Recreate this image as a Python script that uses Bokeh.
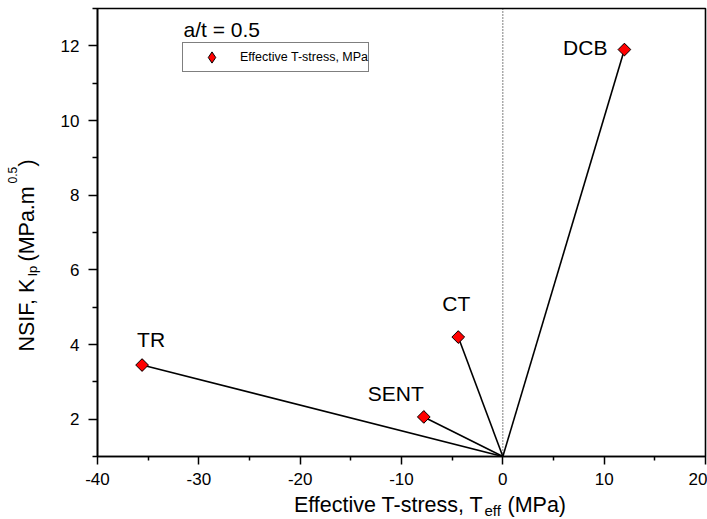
import numpy as np
from bokeh.plotting import figure
from bokeh.layouts import row, column
from bokeh.models import (ColumnDataSource, Label, Span, FixedTicker,
                          CustomJSTickFormatter, Legend, LegendItem)
from bokeh.core.properties import value
from bokeh.embed import file_html
from bokeh.resources import INLINE

# ---- data ----
specimens = ["TR", "SENT", "CT", "DCB"]
t_eff = [-35.6, -7.8, -4.4, 12.0]          # Effective T-stress (MPa)
k_ip = [3.45, 2.06, 4.2, 11.9]             # NSIF K_Ip (MPa.m^0.5)
origin_x = 0.0
origin_y = 1.0
x_major = [-40, -30, -20, -10, 0, 10, 20]
x_minor = [-35, -25, -15, -5, 5, 15]
y_major = [2, 4, 6, 8, 10, 12]
y_minor = [1, 3, 5, 7, 9, 11, 13]
legend_text = "Effective T-stress, MPa"
annotation_text = "a/t = 0.5"

# ---- label styling (screen offsets) ----
lab_dx = [9, -28, -2, -17]
lab_dy = [-26, -23, -34, -2]
lab_align = ["center", "center", "center", "right"]

FONT = "Liberation Sans"
LEFT_W = 45      # width of the strip carrying the y title
BOTTOM_H = 27    # height of the strip carrying the x title
TOTAL_W, TOTAL_H = 707, 519
FRAME_L = 97     # page x of the plot frame's left edge
BORDER_L = FRAME_L - LEFT_W
BORDER_R = 2

p = figure(width=TOTAL_W - LEFT_W, height=TOTAL_H - BOTTOM_H,
           x_range=(-40, 20), y_range=(1, 13),
           output_backend="svg", toolbar_location=None,
           min_border_left=BORDER_L, min_border_right=BORDER_R, min_border_top=8,
           min_border_bottom=TOTAL_H - BOTTOM_H - 456)
p.xgrid.visible = False
p.ygrid.visible = False
p.outline_line_color = "black"
p.outline_line_width = 1.6
p.background_fill_color = "white"
p.border_fill_color = "white"

fmt = CustomJSTickFormatter(code="return tick.toString();")
for ax in (p.xaxis[0], p.yaxis[0]):
    ax.axis_line_width = 1.6
    ax.axis_line_color = "black"
    ax.major_tick_line_width = 1.5
    ax.minor_tick_line_width = 1.5
    ax.major_tick_line_color = "black"
    ax.minor_tick_line_color = "black"
    ax.major_tick_in = 0
    ax.minor_tick_in = 0
    ax.major_label_text_font = FONT
    ax.major_label_text_font_size = "17px"
    ax.major_label_text_color = "black"
    ax.formatter = fmt

p.xaxis.ticker = FixedTicker(ticks=x_major, minor_ticks=x_minor)
p.yaxis.ticker = FixedTicker(ticks=y_major, minor_ticks=y_minor)
p.xaxis.major_tick_out = 8
p.xaxis.minor_tick_out = 4
p.yaxis.major_tick_out = 9
p.yaxis.minor_tick_out = 5
p.xaxis.major_label_standoff = 8
p.yaxis.major_label_standoff = 9

# dotted zero line
p.add_layout(Span(location=origin_x, dimension="height", line_color="black",
                  line_width=1, line_dash="1 2"))

# lines from each point to the origin
seg = ColumnDataSource(dict(x0=t_eff, y0=k_ip,
                            x1=[origin_x] * len(t_eff), y1=[origin_y] * len(t_eff)))
p.segment("x0", "y0", "x1", "y1", source=seg, line_color="black", line_width=1.6)

src = ColumnDataSource(dict(x=t_eff, y=k_ip, name=specimens,
                            dx=lab_dx, dy=lab_dy, align=lab_align))
# diamond (drawn underneath, used for the legend symbol)
leg_r = p.scatter("x", "y", source=src, marker="diamond", size=12,
                  fill_color="red", line_color="black", line_width=1)
p.scatter("x", "y", source=src, marker="square", angle=np.pi / 4, size=9,
          fill_color="red", line_color="black", line_width=1)

p.text("x", "y", text="name", source=src, x_offset="dx", y_offset="dy",
       text_align="align", text_baseline="alphabetic",
       text_font=value(FONT), text_font_size="21px", text_color="black")

leg = Legend(items=[LegendItem(label=legend_text, renderers=[leg_r])],
             location=(85, 384))
leg.border_line_color = "black"
leg.border_line_width = 1
leg.background_fill_color = "white"
leg.background_fill_alpha = 1
leg.padding = 0
leg.margin = 0
leg.glyph_width = 57
leg.glyph_height = 28
leg.label_height = 28
leg.label_standoff = 0
leg.label_text_font = FONT
leg.label_text_font_size = "12.5px"
leg.label_text_color = "black"
leg.label_text_baseline = "middle"
p.add_layout(leg)

p.add_layout(Label(x=86, y=427, x_units="screen", y_units="screen",
                   text=annotation_text, text_font=FONT, text_font_size="21px",
                   text_baseline="alphabetic", text_align="left",
                   text_color="black"))


def strip(w, h, bl=0, br=0):
    f = figure(width=w, height=h, x_range=(0, 1), y_range=(0, 1),
               output_backend="svg", toolbar_location=None,
               x_axis_location=None, y_axis_location=None, min_border=0,
               min_border_left=bl, min_border_right=br)
    f.xgrid.visible = False
    f.ygrid.visible = False
    f.outline_line_color = None
    f.background_fill_color = "white"
    f.border_fill_color = "white"
    return f


def lab(f, x, y, text, size, align="left", angle=0):
    f.add_layout(Label(x=x, y=y, x_units="screen", y_units="screen", text=text,
                       text_font=FONT, text_font_size=size, angle=angle,
                       text_baseline="alphabetic", text_align=align,
                       text_color="black"))


# x axis title: Effective T-stress, T_eff (MPa)   (x relative to frame left)
xt = strip(TOTAL_W - LEFT_W, BOTTOM_H, BORDER_L, BORDER_R)
lab(xt, 483 - FRAME_L, 15, "Effective T-stress, T", "21.5px", align="right")
lab(xt, 484 - FRAME_L, 9, "eff", "15px")
lab(xt, 507 - FRAME_L, 15, "(MPa)", "21.5px")

# y axis title: NSIF, K_Ip (MPa.m^0.5)
yt = strip(LEFT_W, TOTAL_H)
rot = np.pi / 2
lab(yt, 26, TOTAL_H - 351, "NSIF, K", "21.5px", angle=rot)
lab(yt, 32, TOTAL_H - 276, "Ip", "13px", angle=rot)
lab(yt, 26, TOTAL_H - 261, "(MPa.m", "21.5px", angle=rot)
lab(yt, 12, TOTAL_H - 183, "0.5", "12px", angle=rot)
lab(yt, 26, TOTAL_H - 166, ")", "21.5px", angle=rot)

layout = row(yt, column(p, xt, spacing=0), spacing=0)

open("out.html", "w").write(file_html(layout, INLINE))
